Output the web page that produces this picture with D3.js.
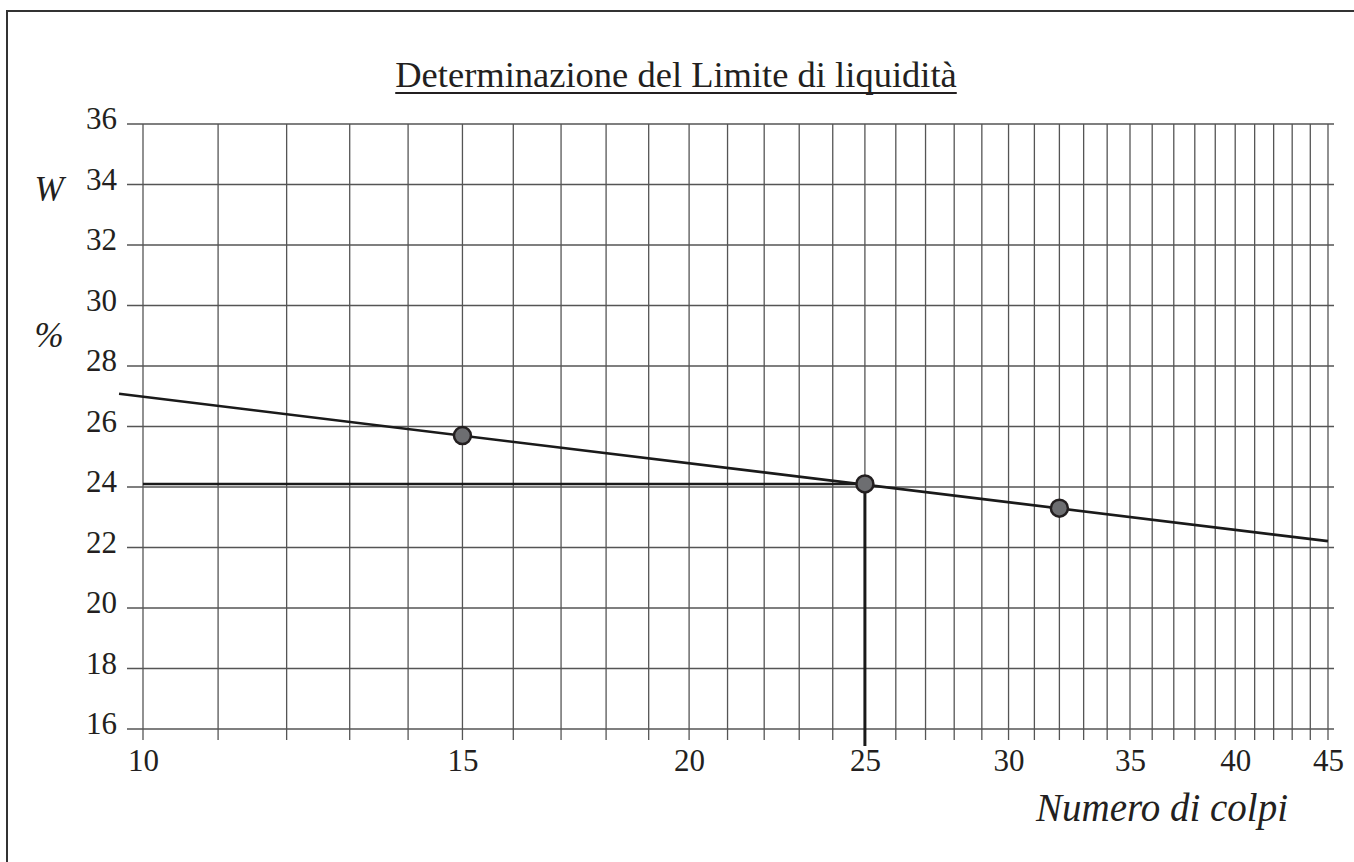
<!DOCTYPE html>
<html>
<head>
<meta charset="utf-8">
<script src="https://cdn.jsdelivr.net/npm/d3@7"></script>
<style>
  html, body { margin: 0; padding: 0; background: #fff; }
  svg { display: block; }
</style>
</head>
<body>
<svg id="chart" width="1354" height="862"></svg>
<script>
// ---- data ----
const blows = [15, 25, 32];
const waterContent = [25.7, 24.1, 23.3];
const fitBlows = [9.7, 45];
const fitWater = [27.08, 22.21];
const liquidLimit = 24.1;
const referenceBlows = 25;
const xTickLabels = [10, 15, 20, 25, 30, 35, 40, 45];
const xGrid = [10, 11, 12, 13, 14, 15, 16, 17, 18, 19, 20, 21, 22, 23, 24, 25, 26, 27, 28, 29, 30,
               31, 32, 33, 34, 35, 36, 37, 38, 39, 40, 41, 42, 43, 44, 45];
const yTicks = [16, 18, 20, 22, 24, 26, 28, 30, 32, 34, 36];
const titleText = "Determinazione del Limite di liquidità";
const xTitle = "Numero di colpi";

// ---- layout ----
const FONT = "'Liberation Serif', 'Times New Roman', serif";
const INK = "#231f20";
const svg = d3.select("#chart");
const x = d3.scaleLog().domain([10, 45]).range([143, 1328]);
const y = d3.scaleLinear().domain([16, 36]).range([729, 124]);
const gridColor = "#555";

// frame
svg.append("rect").attr("x", 7).attr("y", 11).attr("width", 1400).attr("height", 900)
  .attr("fill", "none").attr("stroke", "#333").attr("stroke-width", 2);

// title
const title = svg.append("text").attr("x", 676).attr("y", 87).attr("text-anchor", "middle")
  .attr("font-family", FONT).attr("fill", INK)
  .attr("font-size", 36.5).text(titleText);
const tb = title.node().getBBox();
svg.append("line").attr("x1", tb.x).attr("x2", tb.x + tb.width).attr("y1", 93).attr("y2", 93)
  .attr("stroke", INK).attr("stroke-width", 2);

// grid: horizontal
svg.append("g").selectAll("line").data(yTicks).join("line")
  .attr("x1", 127).attr("x2", 1334)
  .attr("y1", d => y(d)).attr("y2", d => y(d))
  .attr("stroke", gridColor).attr("stroke-width", 1.3);

// grid: vertical
svg.append("g").selectAll("line").data(xGrid).join("line")
  .attr("x1", d => x(d)).attr("x2", d => x(d))
  .attr("y1", y(36)).attr("y2", 740)
  .attr("stroke", gridColor).attr("stroke-width", 1.3);

// y axis labels
const yAxis = d3.axisLeft(y).tickValues(yTicks).tickSize(0).tickPadding(0);
const gy = svg.append("g").attr("transform", "translate(117,0)").call(yAxis)
  .attr("font-family", FONT).attr("font-size", 31);
gy.select(".domain").remove();
gy.selectAll("text").attr("fill", INK).attr("dy", "0.15em");

// x axis labels
const xAxis = d3.axisBottom(x).tickValues(xTickLabels).tickFormat(d3.format("d")).tickSize(0).tickPadding(0);
const gx = svg.append("g").attr("transform", "translate(0,749)").call(xAxis)
  .attr("font-family", FONT).attr("font-size", 31);
gx.select(".domain").remove();
gx.selectAll("text").attr("fill", INK).attr("dy", "0.71em");

// axis titles
svg.append("text").attr("x", 49).attr("y", 201).attr("text-anchor", "middle")
  .attr("font-family", FONT).attr("fill", INK)
  .attr("font-size", 35).attr("font-style", "italic").text("W");
svg.append("text").attr("x", 49).attr("y", 347).attr("text-anchor", "middle")
  .attr("font-family", FONT).attr("fill", INK)
  .attr("font-size", 35).attr("font-style", "italic").text("%");
svg.append("text").attr("x", 1162).attr("y", 821).attr("text-anchor", "middle")
  .attr("font-family", FONT).attr("fill", INK)
  .attr("font-size", 39).attr("font-style", "italic").text(xTitle);

// liquid limit construction lines
svg.append("line").attr("x1", x(10)).attr("x2", x(referenceBlows))
  .attr("y1", y(liquidLimit)).attr("y2", y(liquidLimit))
  .attr("stroke", "#1a1a1a").attr("stroke-width", 2.5);
svg.append("line").attr("x1", x(referenceBlows)).attr("x2", x(referenceBlows))
  .attr("y1", y(liquidLimit)).attr("y2", 746)
  .attr("stroke", "#1a1a1a").attr("stroke-width", 3);

// fitted line
const fitData = fitBlows.map((b, i) => [b, fitWater[i]]);
svg.append("path").datum(fitData)
  .attr("d", d3.line().x(d => x(d[0])).y(d => y(d[1])))
  .attr("fill", "none").attr("stroke", "#1a1a1a").attr("stroke-width", 2.6);

// points
const pts = blows.map((b, i) => [b, waterContent[i]]);
svg.append("g").selectAll("circle").data(pts).join("circle")
  .attr("cx", d => x(d[0])).attr("cy", d => y(d[1])).attr("r", 8.5)
  .attr("fill", "#6d6e71").attr("stroke", INK).attr("stroke-width", 2.5);
</script>
</body>
</html>
